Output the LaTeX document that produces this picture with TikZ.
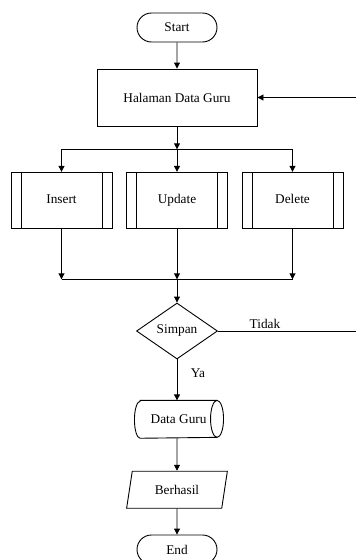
\documentclass[tikz,border=0pt]{standalone}
\usepackage{fontspec}
\setmainfont{Liberation Serif}
\usetikzlibrary{shapes.geometric,shapes.misc,arrows.meta}
\begin{document}
\begin{tikzpicture}[x=1pt,y=-1pt,
  font=\fontsize{13.3}{15}\selectfont,
  line width=0.9pt,
  arr/.style={-{Triangle[length=6pt,width=6pt]}},
  term/.style={rounded rectangle,draw,minimum width=80pt,minimum height=29pt,inner sep=0pt},
  proc/.style={rectangle,draw,minimum width=160pt,minimum height=57pt,inner sep=0pt},
  sub/.style={rectangle,draw,minimum width=101pt,minimum height=56pt,inner sep=0pt,text height=9.5pt,text depth=3pt,
    path picture={
      \draw ([xshift=10pt]path picture bounding box.north west) -- ([xshift=10pt]path picture bounding box.south west);
      \draw ([xshift=-10pt]path picture bounding box.north east) -- ([xshift=-10pt]path picture bounding box.south east);}},
  dec/.style={diamond,draw,minimum width=81pt,minimum height=56pt,inner sep=0pt},
  store/.style={rectangle,minimum width=76pt,minimum height=37pt,inner sep=0pt},
  io/.style={trapezium,draw,trapezium left angle=73.4,trapezium right angle=106.6,trapezium stretches=true,minimum width=101pt,minimum height=37pt,inner sep=0pt},
  lbl/.style={inner sep=0pt}]
\useasboundingbox (0,0) rectangle (356,560);
\node[term] (start) at (177,27.5) {Start};
\node[proc] (hal) at (177,97.5) {Halaman Data Guru};
\node[sub] (ins) at (61.5,200.3) {Insert};
\node[sub] (upd) at (177,200.3) {Update};
\node[sub] (del) at (292.5,200.3) {Delete};
\node[dec] (simp) at (177,331) {Simpan};
\node[store] (dg) at (178.6,419.3) {Data Guru};
\draw (dg.north west) -- (dg.north east)
  arc[start angle=90,end angle=-90,x radius=6.5pt,y radius=18.5pt]
  -- (dg.south west)
  arc[start angle=270,end angle=90,x radius=5.7pt,y radius=18.5pt] -- cycle;
\draw (dg.north east) arc[start angle=90,end angle=270,x radius=6.5pt,y radius=18.5pt];
\node[io] (ber) at (177,489.7) {Berhasil};
\node[term] (end) at (177,549.5) {End};
\coordinate (R) at (356,97.5);
\coordinate (j1) at (177,149.3);
\coordinate (jl) at (61.5,149.3);
\coordinate (jr) at (292.5,149.3);
\coordinate (j2) at (177,279.3);
\coordinate (bl) at (61.5,279.3);
\coordinate (br) at (292.5,279.3);
\coordinate (T) at (356,331);
\draw[arr] (start) -- (hal);
\draw[arr] (R) -- (hal.east);
\draw[arr] (hal.south) -- (j1);
\draw[arr] (j1) -- (upd.north);
\draw (jl) -- (jr);
\draw[arr] (jl) -- (ins.north);
\draw[arr] (jr) -- (del.north);
\draw[arr] (ins.south) -- (bl);
\draw[arr] (upd.south) -- (j2);
\draw[arr] (del.south) -- (br);
\draw (bl) -- (br);
\draw[arr] (j2) -- (simp.north);
\draw (simp.east) -- (T);
\node[lbl] (tidak) at (265,324) {Tidak};
\draw[arr] (simp.south) -- (simp.south |- dg.north);
\node[lbl] (ya) at (198,373) {Ya};
\draw[arr] (simp.south |- dg.south) -- (ber.north);
\draw[arr] (ber.south) -- (end.north);
\end{tikzpicture}
\end{document}
